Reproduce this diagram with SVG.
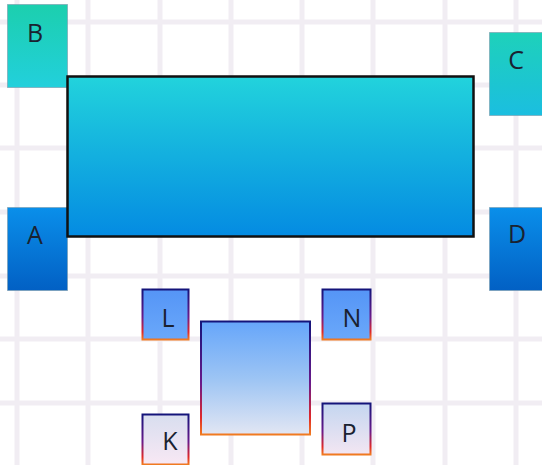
<svg xmlns="http://www.w3.org/2000/svg" width="542" height="465" viewBox="0 0 542 465">
<defs>
<linearGradient id="gTeal" x1="0" y1="0" x2="0" y2="1"><stop offset="0" stop-color="#1ccfae"/><stop offset="1" stop-color="#22d0dc"/></linearGradient>
<linearGradient id="gTealC" x1="0" y1="0" x2="0" y2="1"><stop offset="0" stop-color="#1ed1ba"/><stop offset="1" stop-color="#1bbee0"/></linearGradient>
<linearGradient id="gBlue" x1="0" y1="0" x2="0" y2="1"><stop offset="0" stop-color="#0a8fea"/><stop offset="1" stop-color="#0260c4"/></linearGradient>
<linearGradient id="gMain" x1="0" y1="0" x2="0" y2="1"><stop offset="0" stop-color="#22d3dc"/><stop offset="1" stop-color="#048be2"/></linearGradient>
<linearGradient id="gLN" x1="0" y1="0" x2="0" y2="1"><stop offset="0" stop-color="#5595f6"/><stop offset="1" stop-color="#6aa8fa"/></linearGradient>
<linearGradient id="gCenter" x1="0" y1="0" x2="0" y2="1"><stop offset="0" stop-color="#66a6fa"/><stop offset="0.5" stop-color="#9cc4f4"/><stop offset="1" stop-color="#e2e6f3"/></linearGradient>
<linearGradient id="gK" x1="0" y1="0" x2="0" y2="1"><stop offset="0" stop-color="#d8deef"/><stop offset="1" stop-color="#f8e8f4"/></linearGradient>
<linearGradient id="gP" x1="0" y1="0" x2="0" y2="1"><stop offset="0" stop-color="#c4d6f0"/><stop offset="1" stop-color="#f3e6f2"/></linearGradient>
<linearGradient id="gEdge" x1="0" y1="0" x2="0" y2="1"><stop offset="0" stop-color="#14147a"/><stop offset="0.55" stop-color="#6a1a8a"/><stop offset="0.85" stop-color="#e02828"/><stop offset="1" stop-color="#f07a20"/></linearGradient>
</defs>
<style>
.grid line{stroke:#f1edf3;stroke-width:5}
.big{stroke:#7a9aaa;stroke-width:1;stroke-opacity:0.6}
.small{stroke:url(#gEdge);stroke-width:2}
text{font-family:"Open Sans","Liberation Sans",sans-serif;font-size:25px;fill:#1a2230;text-anchor:middle}
</style>
<rect width="542" height="465" fill="#ffffff"/>
<g class="grid">
<line x1="17" y1="0" x2="17" y2="465"/><line x1="88" y1="0" x2="88" y2="465"/><line x1="160" y1="0" x2="160" y2="465"/><line x1="231" y1="0" x2="231" y2="465"/><line x1="302" y1="0" x2="302" y2="465"/><line x1="373" y1="0" x2="373" y2="465"/><line x1="445" y1="0" x2="445" y2="465"/><line x1="516" y1="0" x2="516" y2="465"/>
<line x1="0" y1="22" x2="542" y2="22"/><line x1="0" y1="85" x2="542" y2="85"/><line x1="0" y1="148" x2="542" y2="148"/><line x1="0" y1="212" x2="542" y2="212"/><line x1="0" y1="276" x2="542" y2="276"/><line x1="0" y1="339" x2="542" y2="339"/><line x1="0" y1="403" x2="542" y2="403"/>
</g>
<g id="connectors"></g>
<g id="B"><rect class="big" x="7.5" y="4.5" width="60" height="83" fill="url(#gTeal)"/><text x="35" y="42">B</text></g>
<g id="C"><rect class="big" x="489.5" y="32.5" width="60" height="83" fill="url(#gTealC)"/><text x="516" y="69">C</text></g>
<g id="A"><rect class="big" x="7.5" y="207.5" width="60" height="83" fill="url(#gBlue)"/><text x="35" y="244">A</text></g>
<g id="D"><rect class="big" x="489.5" y="207.5" width="60" height="83" fill="url(#gBlue)"/><text x="517" y="243">D</text></g>
<g id="main"><rect x="67.5" y="76.5" width="406" height="160" fill="url(#gMain)" stroke="#111111" stroke-width="2.5"/></g>
<g id="center"><rect class="small" x="201" y="321.5" width="109" height="113" fill="url(#gCenter)"/></g>
<g id="L"><rect class="small" x="142.5" y="289.5" width="46" height="50" fill="url(#gLN)"/><text x="168" y="327">L</text></g>
<g id="N"><rect class="small" x="322.5" y="289.5" width="48" height="50" fill="url(#gLN)"/><text x="352" y="327">N</text></g>
<g id="K"><rect class="small" x="142.5" y="414.5" width="46" height="50" fill="url(#gK)"/><text x="170" y="450">K</text></g>
<g id="P"><rect class="small" x="322.5" y="403.5" width="48" height="51" fill="url(#gP)"/><text x="349" y="442">P</text></g>
</svg>
